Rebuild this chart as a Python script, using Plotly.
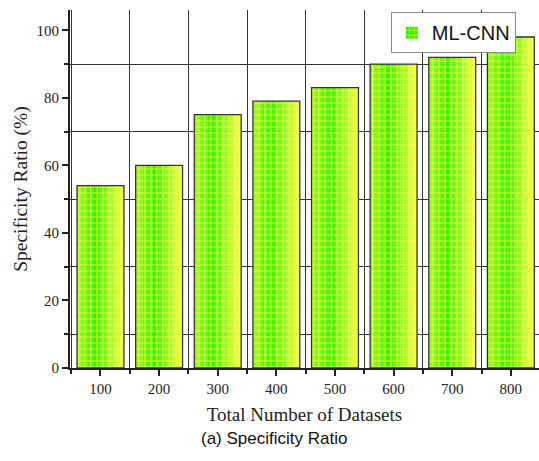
import plotly.graph_objects as go

categories = ["100", "200", "300", "400", "500", "600", "700", "800"]
specificity = [54, 60, 75, 79, 83, 90, 92, 98]
series_name = "ML-CNN"
y_ticks = [0, 20, 40, 60, 80, 100]

x_idx = list(range(len(categories)))
bar_w = 0.8
n_slices = 14

def lerp(c1, c2, t):
    return tuple(int(round(a + (b - a) * t)) for a, b in zip(c1, c2))

left_c = (160, 248, 35)
mid_c = (55, 240, 0)
right_c = (252, 255, 80)

fig = go.Figure()
for j in range(n_slices):
    t = (j + 0.5) / n_slices
    if t < 0.4:
        c = lerp(left_c, mid_c, t / 0.4)
    else:
        c = lerp(mid_c, right_c, (t - 0.4) / 0.6)
    fig.add_trace(go.Bar(
        x=x_idx, y=specificity,
        width=bar_w / n_slices + 0.002,
        offset=-bar_w / 2 + j * bar_w / n_slices,
        marker=dict(color="rgb(%d,%d,%d)" % c, line=dict(width=0),
                    pattern=dict(shape="+", fgcolor="#ffff30", fgopacity=0.9,
                                 size=6, solidity=0.25, fillmode="overlay")),
        name=series_name, legendgroup="g",
        showlegend=(j == 5), hoverinfo="skip",
    ))

fig.add_trace(go.Bar(
    x=x_idx, y=specificity, width=bar_w, offset=-bar_w / 2,
    marker=dict(color="rgba(0,0,0,0)", line=dict(color="#333333", width=1.3)),
    name=series_name, legendgroup="g", showlegend=False,
))

fig.update_layout(
    width=539, height=461,
    margin=dict(l=70, r=0, t=10, b=93),
    barmode="overlay",
    plot_bgcolor="white", paper_bgcolor="white",
    font=dict(family="Liberation Serif", color="#222"),
    legend=dict(x=0.684, y=0.994, xanchor="left", yanchor="top",
                bordercolor="#888", borderwidth=1, bgcolor="white",
                entrywidth=128, entrywidthmode="pixels",
                font=dict(family="Liberation Sans", size=20, color="#111")),
    annotations=[dict(text="(a) Specificity Ratio", xref="paper", yref="paper",
                      x=0.435, y=-0.196, xanchor="center", yanchor="middle",
                      showarrow=False,
                      font=dict(family="Liberation Sans", size=17, color="#111"))],
)

fig.update_xaxes(
    range=[-0.52, 7.48],
    tickvals=x_idx, ticktext=categories,
    showgrid=False, zeroline=False,
    showline=True, linecolor="#222", linewidth=2,
    ticks="outside", ticklen=6, tickwidth=1.5, tickcolor="#222",
    tickfont=dict(size=15, family="Liberation Serif"),
    minor=dict(tickvals=[i + 0.5 for i in range(-1, len(categories))],
               showgrid=True, gridcolor="#333", gridwidth=1,
               ticks="outside", ticklen=4, tickcolor="#222", tickwidth=1.5),
    title=dict(text="Total Number of Datasets", standoff=12,
               font=dict(size=19, family="Liberation Serif")),
)
fig.update_yaxes(
    range=[0, 106],
    tickvals=y_ticks,
    showgrid=False, zeroline=False,
    showline=True, linecolor="#222", linewidth=2,
    ticks="outside", ticklen=6, tickwidth=1.5, tickcolor="#222",
    tickfont=dict(size=15, family="Liberation Serif"),
    minor=dict(tickvals=[10, 30, 50, 70, 90],
               showgrid=True, gridcolor="#333", gridwidth=1,
               ticks="outside", ticklen=4, tickcolor="#222", tickwidth=1.5),
    title=dict(text="Specificity Ratio (%)", standoff=4,
               font=dict(size=19.5, family="Liberation Serif")),
)

fig.write_html("out.html")
